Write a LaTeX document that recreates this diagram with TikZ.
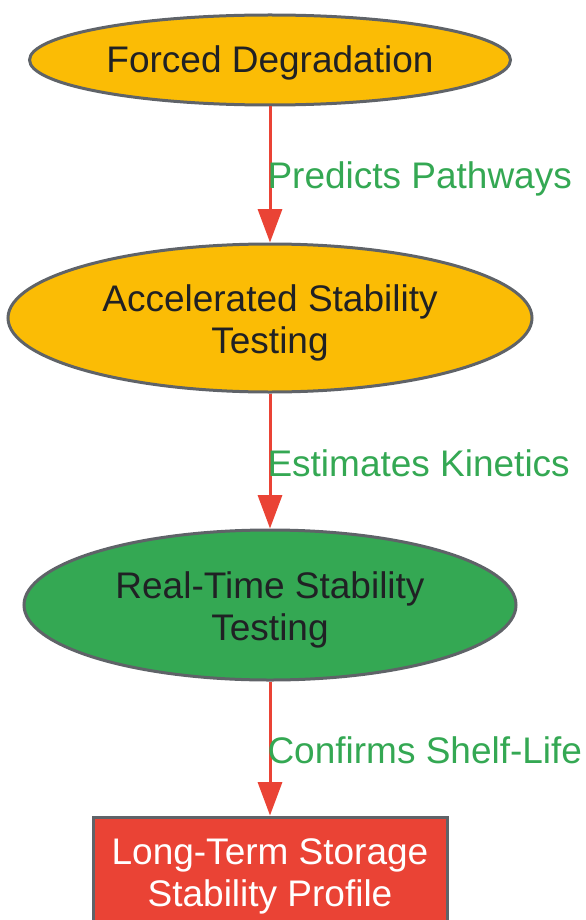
\documentclass[tikz,border=0pt]{standalone}
\usepackage{fontspec}
\setmainfont{Liberation Sans}
\usetikzlibrary{shapes.geometric,arrows.meta}

\definecolor{stageyellow}{HTML}{FBBC05}
\definecolor{stagegreen}{HTML}{34A853}
\definecolor{stagered}{HTML}{EA4335}
\definecolor{rimgray}{HTML}{5F6368}
\definecolor{inkdark}{HTML}{202124}

\begin{document}
\begin{tikzpicture}[x=0.75pt,y=-0.75pt,
    stage/.style={ellipse,draw=rimgray,line width=2.25pt,inner sep=0pt},
    stagetext/.style={inner sep=0pt,align=center,text=inkdark,
      font=\fontsize{27.75pt}{31.5pt}\selectfont},
    flow/.style={draw=stagered,line width=2.25pt,-{Triangle[length=25pt,width=18pt]}},
    flowlabel/.style={anchor=west,inner sep=0pt,xshift=-3pt,text=stagegreen,
      font=\fontsize{27.75pt}{31.5pt}\selectfont}]
    \useasboundingbox (0,0) rectangle (585,920);
    \clip (0,0) rectangle (585,920);

    \node[stage,fill=stageyellow,minimum width=360.75pt,minimum height=67.5pt,
      label={[stagetext,yshift=-2.25pt]center:Forced Degradation}] (forced) at (270,60) {};
    \node[stage,fill=stageyellow,minimum width=393pt,minimum height=111pt,
      label={[stagetext,yshift=-3.75pt]center:{Accelerated Stability\\Testing}}] (accel) at (270,318) {};
    \node[stage,fill=stagegreen,minimum width=369pt,minimum height=112.5pt,
      label={[stagetext,yshift=-3.75pt]center:{Real-Time Stability\\Testing}}] (realtime) at (270,605) {};
    \node[draw=rimgray,fill=stagered,line width=2.25pt,inner sep=0pt,
      minimum width=265.5pt,minimum height=82.5pt,
      label={[stagetext,text=white,yshift=-3pt]center:{Long-Term Storage\\Stability Profile}}] (profile) at (270,872) {};

    \draw[flow] (forced) -- (accel) node[flowlabel,pos=0.53] {Predicts Pathways};
    \draw[flow] (accel) -- (realtime) node[flowlabel,pos=0.52] {Estimates Kinetics};
    \draw[flow] (realtime) -- (profile) node[flowlabel,pos=0.51] {Confirms Shelf-Life};
  \end{tikzpicture}
\end{document}
